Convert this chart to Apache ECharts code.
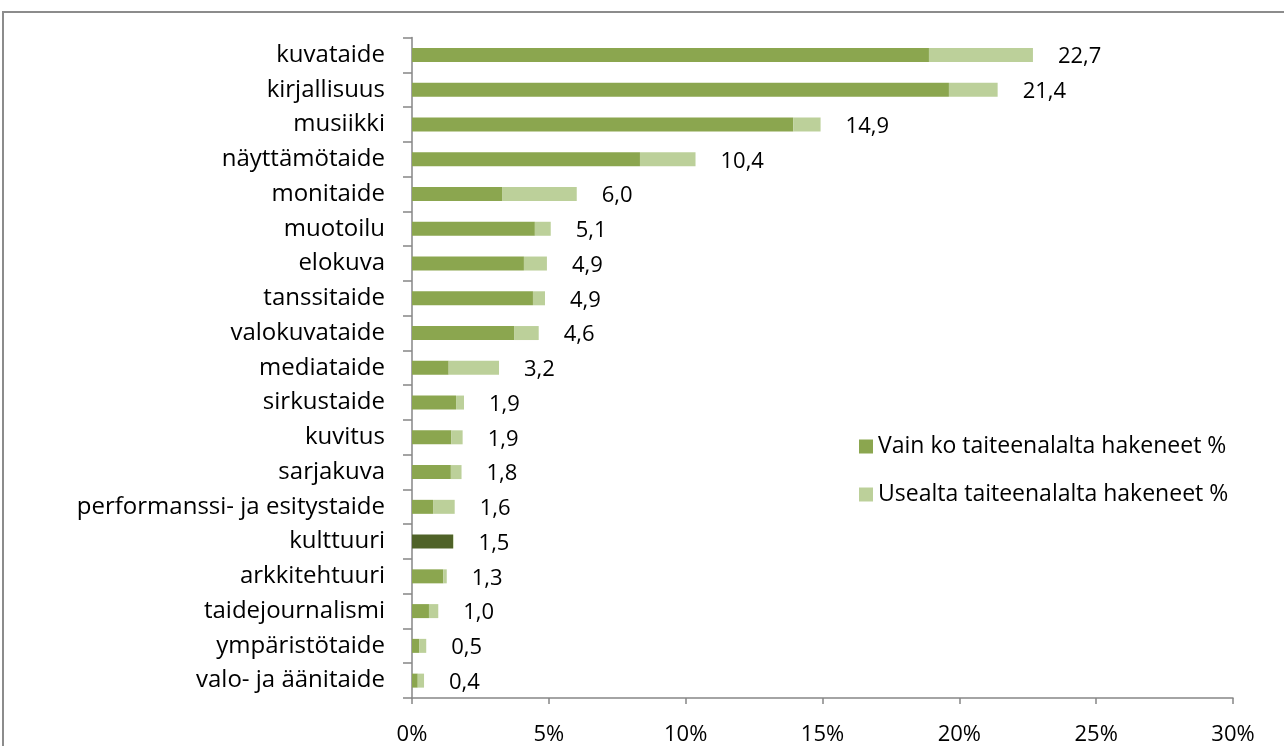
<!DOCTYPE html>
<html>
<head>
<meta charset="utf-8">
<script src="https://cdn.jsdelivr.net/npm/echarts@6/dist/echarts.min.js"></script>
<style>
  html, body { margin: 0; padding: 0; background: #fff; }
  #chart { width: 1284px; height: 746px; }
</style>
</head>
<body>
<div id="chart"></div>
<script>
// categories, top to bottom
const categories = [
    'kuvataide', 'kirjallisuus', 'musiikki', 'näyttämötaide', 'monitaide',
    'muotoilu', 'elokuva', 'tanssitaide', 'valokuvataide', 'mediataide',
    'sirkustaide', 'kuvitus', 'sarjakuva', 'performanssi- ja esitystaide',
    'kulttuuri', 'arkkitehtuuri', 'taidejournalismi', 'ympäristötaide',
    'valo- ja äänitaide'
];
// Vain ko taiteenalalta hakeneet %
const onlyOne = [18.89, 19.62, 13.93, 8.33, 3.29, 4.49, 4.09, 4.42, 3.73, 1.34,
    1.61, 1.44, 1.42, 0.77, 1.50, 1.14, 0.62, 0.27, 0.21];
// Usealta taiteenalalta hakeneet %
const several = [3.80, 1.78, 1.00, 2.03, 2.73, 0.58, 0.84, 0.44, 0.90, 1.84,
    0.29, 0.41, 0.39, 0.79, 0.02, 0.13, 0.34, 0.25, 0.23];
// total labels as printed
const totals = [22.7, 21.4, 14.9, 10.4, 6.0, 5.1, 4.9, 4.9, 4.6, 3.2,
    1.9, 1.9, 1.8, 1.6, 1.5, 1.3, 1.0, 0.5, 0.4];
const xTicks = [0, 5, 10, 15, 20, 25, 30];

const darkGreen = '#8ba64f';
const lightGreen = '#bcd09a';
const highlight = 'kulttuuri';

document.addEventListener('DOMContentLoaded', function () {
    var myChart = echarts.init(document.getElementById('chart'));
    var font = 'Open Sans';

    var option = {
        animation: false,
        textStyle: { fontFamily: font, color: '#000' },
        graphic: [{
            type: 'rect',
            silent: true,
            shape: { x: 3, y: 12, width: 1400, height: 800 },
            style: { fill: 'none', stroke: '#8c8c8c', lineWidth: 2 }
        }],
        grid: {
            left: 412,
            right: 51,
            top: 37.6,
            bottom: 47.6
        },
        legend: {
            orient: 'vertical',
            left: 854,
            top: 430,
            itemWidth: 14,
            itemHeight: 14,
            itemGap: 25,
            icon: 'rect',
            textStyle: { fontSize: 23, fontFamily: font, color: '#000' },
            data: ['Vain ko taiteenalalta hakeneet %', 'Usealta taiteenalalta hakeneet %']
        },
        xAxis: {
            type: 'value',
            min: xTicks[0],
            max: xTicks[xTicks.length - 1],
            interval: 5,
            splitLine: { show: false },
            axisLine: { show: true, lineStyle: { color: '#868686', width: 1.5 } },
            axisTick: { show: true, length: 6, lineStyle: { color: '#868686', width: 1.5 } },
            axisLabel: {
                fontSize: 22,
                color: '#000',
                margin: 26,
                formatter: '{value}%'
            }
        },
        yAxis: {
            type: 'category',
            inverse: true,
            data: categories,
            axisLine: { show: true, lineStyle: { color: '#868686', width: 1.5 } },
            axisTick: { show: true, length: 9, lineStyle: { color: '#868686', width: 1.5 } },
            axisLabel: { fontSize: 24, color: '#000', margin: 27 }
        },
        series: [
            {
                name: 'Vain ko taiteenalalta hakeneet %',
                type: 'bar',
                stack: 'total',
                barWidth: 14,
                itemStyle: { color: darkGreen },
                data: onlyOne.map(function (v, i) {
                    return categories[i] === highlight
                        ? { value: v, itemStyle: { color: '#4f6228' } }
                        : v;
                })
            },
            {
                name: 'Usealta taiteenalalta hakeneet %',
                type: 'bar',
                stack: 'total',
                barWidth: 14,
                itemStyle: { color: lightGreen },
                label: {
                    show: true,
                    position: 'right',
                    distance: 25,
                    offset: [0, 2],
                    fontSize: 22,
                    color: '#000',
                    fontFamily: font,
                    formatter: function (p) {
                        return totals[p.dataIndex].toFixed(1).replace('.', ',');
                    }
                },
                data: several
            }
        ]
    };

    myChart.setOption(option);
});
</script>
</body>
</html>
